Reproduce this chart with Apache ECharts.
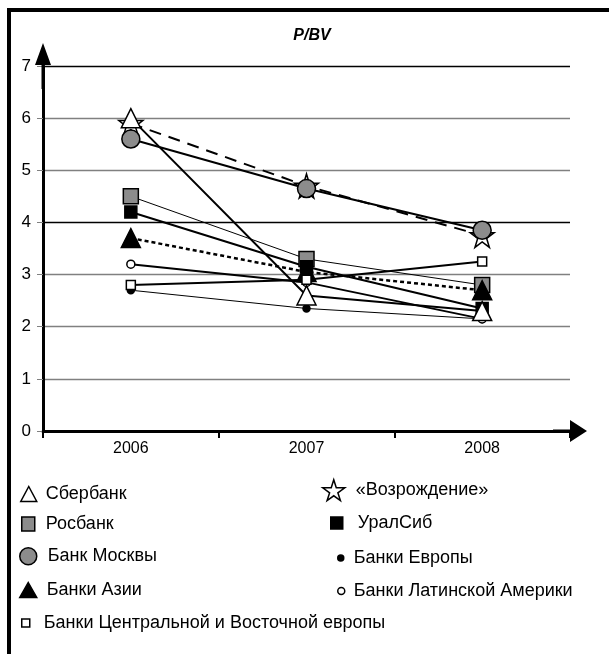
<!DOCTYPE html>
<html>
<head>
<meta charset="utf-8">
<script src="https://cdn.jsdelivr.net/npm/echarts@6/dist/echarts.min.js"></script>
<style>
  html, body { margin: 0; padding: 0; background: #fff; }
  #chart { width: 609px; height: 654px; }
</style>
</head>
<body>
<div id="chart"></div>
<script>
var years = ['2006', '2007', '2008'];
var yTicks = [0, 1, 2, 3, 4, 5, 6, 7];

var sberbank = [6.0, 2.6, 2.3];
var rosbank = [4.5, 3.3, 2.8];
var bankMoscow = [5.6, 4.65, 3.85];
var asiaBanks = [3.7, 3.05, 2.7];
var vozrozhdenie = [5.9, 4.7, 3.75];
var uralsib = [4.2, 3.15, 2.35];
var europeBanks = [2.7, 2.35, 2.15];
var latamBanks = [3.2, 2.85, 2.15];
var ceeBanks = [2.8, 2.9, 3.25];

var STAR = 'path://M50,0 L61,35 L98,35 L68,57 L79,91 L50,70 L21,91 L32,57 L2,35 L39,35 Z';
// arrow heads with a stem on the axis, so the head sits past the line end
var X_ARROW = 'path://M11,0 L22,17 L12.5,17 L12.5,34 L9.5,34 L9.5,17 L0,17 Z';
var Y_ARROW = 'path://M8,0 L16,22 L9.5,22 L9.5,46 L6.5,46 L6.5,22 L0,22 Z';
var FONT = 'Liberation Sans';

var dom = document.getElementById('chart');
var myChart = echarts.init(dom, null, { renderer: 'canvas' });

function line(name, data, symbol, size, fill, lineW, lineType) {
  return {
    name: name,
    type: 'line',
    data: data,
    symbol: symbol,
    symbolSize: size,
    showSymbol: true,
    animation: false,
    itemStyle: { color: fill, borderColor: '#000', borderWidth: 1.5 },
    lineStyle: { color: '#000', width: lineW, type: lineType || 'solid' },
    emphasis: { disabled: true }
  };
}

// one legend block per entry, so each icon keeps its own size
function legendItem(name, icon, left, top, w, h, pad) {
  return {
    data: [{ name: name, icon: icon }],
    left: left,
    top: top,
    itemWidth: w,
    itemHeight: h,
    itemGap: 0,
    selectedMode: false,
    itemStyle: { borderColor: '#000', borderWidth: 1.5 },
    textStyle: { fontFamily: FONT, fontSize: 18, color: '#000', padding: [0, 0, 0, pad] }
  };
}

var option = {
  animation: false,
  backgroundColor: '#fff',
  title: {
    text: 'P/BV',
    left: 307,
    top: 23,
    textAlign: 'center',
    textStyle: { fontFamily: FONT, fontSize: 16, fontStyle: 'italic', fontWeight: 'bold', color: '#000' }
  },
  graphic: [{
    type: 'rect',
    shape: { x: 9, y: 10, width: 800, height: 800 },
    style: { fill: 'none', stroke: '#000', lineWidth: 4 },
    silent: true
  }],
  grid: { left: 43, right: 39, top: 66, bottom: 223 },
  xAxis: {
    type: 'category',
    data: years,
    boundaryGap: true,
    axisLine: {
      lineStyle: { color: '#000', width: 3 },
      symbol: ['none', X_ARROW],
      symbolSize: [22, 34]
    },
    axisTick: { show: true, length: 7, lineStyle: { color: '#000', width: 2 } },
    axisLabel: { fontFamily: FONT, fontSize: 16, color: '#000', margin: 10 },
    splitLine: { show: false }
  },
  yAxis: {
    type: 'value',
    min: yTicks[0],
    max: yTicks[yTicks.length - 1],
    interval: 1,
    axisLine: {
      show: true,
      lineStyle: { color: '#000', width: 3 },
      symbol: ['none', Y_ARROW],
      symbolSize: [16, 46]
    },
    axisTick: { show: true, length: 6, lineStyle: { color: '#808080', width: 1 } },
    axisLabel: { fontFamily: FONT, fontSize: 17, color: '#000', margin: 12 },
    splitLine: {
      show: true,
      lineStyle: {
        color: ['#808080', '#808080', '#808080', '#808080', '#000', '#808080', '#808080', '#000'],
        width: 1.3
      }
    }
  },
  legend: [
    legendItem('Сбербанк', 'triangle', 15, 480, 16, 15, 4),
    legendItem('Росбанк', 'rect', 16, 510, 13, 14, 6),
    legendItem('Банк Москвы', 'circle', 14, 542, 17, 17, 6),
    legendItem('Банки Азии', 'triangle', 14, 576, 17, 15, 5),
    legendItem('Банки Центральной и Восточной европы', 'rect', 16, 609, 8, 8, 9),
    legendItem('«Возрождение»', STAR, 317, 474, 22, 22, 6),
    legendItem('УралСиб', 'rect', 325, 509, 12, 12, 10),
    legendItem('Банки Европы', 'circle', 332, 544, 6, 6, 5),
    legendItem('Банки Латинской Америки', 'circle', 332, 577, 7, 7, 4)
  ],
  series: [
    line('«Возрождение»', vozrozhdenie, STAR, 24, '#fff', 2, [12, 8]),
    line('Банк Москвы', bankMoscow, 'circle', 18, '#8c8c8c', 2),
    line('Росбанк', rosbank, 'rect', 15, '#8c8c8c', 1),
    line('УралСиб', uralsib, 'rect', 12, '#000', 2),
    line('Банки Азии', asiaBanks, 'triangle', 19, '#000', 2.5, [4, 3]),
    line('Банки Европы', europeBanks, 'circle', 7, '#000', 1),
    line('Банки Латинской Америки', latamBanks, 'circle', 8, '#fff', 2),
    line('Банки Центральной и Восточной европы', ceeBanks, 'rect', 9, '#fff', 2),
    line('Сбербанк', sberbank, 'triangle', 19, '#fff', 2)
  ]
};

if (option && typeof option === 'object') {
  myChart.setOption(option);
}

window.addEventListener('resize', myChart.resize);
</script>
</body>
</html>
